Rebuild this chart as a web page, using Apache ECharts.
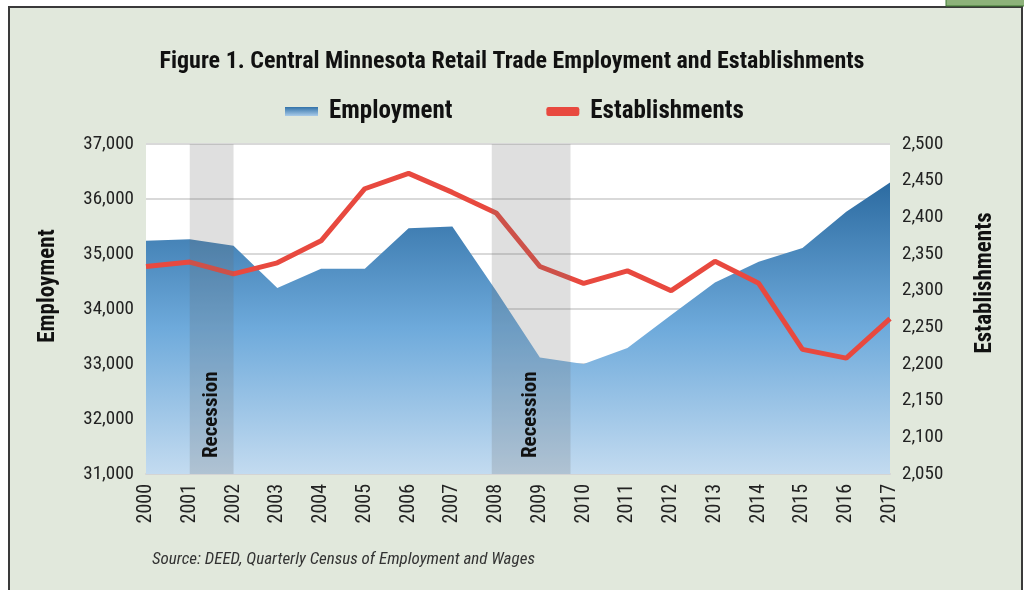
<!DOCTYPE html>
<html>
<head>
<meta charset="utf-8">
<script src="https://cdn.jsdelivr.net/npm/echarts@6/dist/echarts.min.js"></script>
<style>
  html, body { margin: 0; padding: 0; background: #ffffff; }
  #chart { width: 1024px; height: 590px; }
</style>
</head>
<body>
<div id="chart"></div>
<script>
// years on the x axis
const years = [2000, 2001, 2002, 2003, 2004, 2005, 2006, 2007, 2008, 2009,
  2010, 2011, 2012, 2013, 2014, 2015, 2016, 2017];
// retail trade employment (left axis)
const employment = [35240, 35270, 35150, 34380, 34730, 34730, 35470, 35500, 34330,
  33120, 33000, 33290, 33890, 34480, 34860, 35110, 35770, 36300];
// establishments (right axis)
const establishments = [2333, 2339, 2323, 2338, 2368, 2439, 2460, 2434, 2406,
  2333, 2310, 2327, 2300, 2340, 2310, 2220, 2208, 2262];
// recession periods (start, end) in years
const recessions = [[2001, 2002], [2007.9, 2009.7]];

const FONT = "'Liberation Sans Narrow', 'Roboto Condensed', Roboto, sans-serif";

const chart = echarts.init(document.getElementById('chart'));

chart.setOption({
  backgroundColor: '#ffffff',
  animation: false,
  textStyle: { fontFamily: FONT },
  graphic: [
    {
      type: 'rect', z: -20, silent: true,
      shape: { x: 9, y: 7, width: 1013, height: 590 },
      style: { fill: '#e1e8dc', stroke: '#3a3a3a', lineWidth: 2 },
    },
    {
      type: 'rect', z: -10, silent: true,
      shape: { x: 946, y: -2, width: 80, height: 8 },
      style: { fill: '#8db27a', stroke: '#3f7a33', lineWidth: 1 },
    },
    // axis titles
    {
      type: 'text', x: 48, y: 286, rotation: Math.PI / 2,
      style: {
        text: 'Employment', fontFamily: FONT, fontSize: 23, fontWeight: 'bold',
        fill: '#111', textAlign: 'center', textVerticalAlign: 'middle',
      },
    },
    {
      type: 'text', x: 985, y: 283, rotation: Math.PI / 2,
      style: {
        text: 'Establishments', fontFamily: FONT, fontSize: 23, fontWeight: 'bold',
        fill: '#111', textAlign: 'center', textVerticalAlign: 'middle',
      },
    },
    // source note
    {
      type: 'text', x: 152, y: 560,
      style: {
        text: 'Source: DEED, Quarterly Census of Employment and Wages',
        fontFamily: FONT, fontStyle: 'italic', fontSize: 17,
        fill: '#333', textVerticalAlign: 'middle',
      },
    },
  ],
  title: {
    text: 'Figure 1. Central Minnesota Retail Trade Employment and Establishments',
    left: 'center',
    top: 45,
    textStyle: { fontFamily: FONT, fontSize: 24, fontWeight: 'bold', color: '#111' },
  },
  legend: {
    top: 94,
    left: 280,
    itemWidth: 33,
    itemHeight: 9,
    itemGap: 94,
    textStyle: {
      fontFamily: FONT, fontSize: 25, fontWeight: 'bold', color: '#111',
      padding: [0, 0, 0, 6],
    },
    data: [
      {
        name: 'Employment',
        icon: 'rect',
        itemStyle: {
          color: new echarts.graphic.LinearGradient(0, 0, 0, 1, [
            { offset: 0, color: '#3272a9' },
            { offset: 1, color: '#a9cbe9' },
          ]),
        },
      },
      {
        name: 'Establishments',
        icon: 'roundRect',
        itemStyle: { color: '#e8493f' },
      },
    ],
  },
  grid: {
    left: 146,
    right: 134,
    top: 144,
    bottom: 116,
    show: true,
    backgroundColor: '#ffffff',
    borderWidth: 0,
  },
  xAxis: {
    type: 'value',
    min: 2000,
    max: 2017,
    interval: 1,
    axisLine: { show: true, lineStyle: { color: '#d4d4d4', width: 2 } },
    axisTick: { show: false },
    splitLine: { show: false },
    axisLabel: {
      rotate: 90,
      margin: 10,
      fontSize: 20,
      color: '#222',
      fontFamily: FONT,
      formatter: (v) => String(v),
    },
  },
  yAxis: [
    {
      type: 'value',
      min: 31000,
      max: 37000,
      interval: 1000,
      axisLine: { show: false },
      axisTick: { show: false },
      axisLabel: {
        fontSize: 19,
        color: '#222',
        margin: 12,
        fontFamily: FONT,
        formatter: (v) => v.toLocaleString('en-US'),
      },
      splitLine: { show: true, lineStyle: { color: '#d9d9d9', width: 2 } },
    },
    {
      type: 'value',
      min: 2050,
      max: 2500,
      interval: 50,
      axisLine: { show: false },
      axisTick: { show: false },
      axisLabel: {
        fontSize: 19,
        color: '#222',
        margin: 12,
        fontFamily: FONT,
        formatter: (v) => v.toLocaleString('en-US'),
      },
      splitLine: { show: false },
    },
  ],
  series: [
    {
      name: 'Employment',
      type: 'line',
      yAxisIndex: 0,
      symbol: 'none',
      lineStyle: { width: 0 },
      itemStyle: { color: '#3a78ae' },
      areaStyle: {
        opacity: 1,
        color: new echarts.graphic.LinearGradient(0, 0, 0, 1, [
          { offset: 0, color: '#2c6ba1' },
          { offset: 0.5, color: '#6eaadb' },
          { offset: 1, color: '#c3dbf0' },
        ]),
      },
      data: years.map((y, i) => [y, employment[i]]),
      z: 1,
    },
    {
      name: 'Establishments',
      type: 'line',
      yAxisIndex: 1,
      symbol: 'none',
      lineStyle: { width: 5, color: '#e8493f' },
      itemStyle: { color: '#e8493f' },
      data: years.map((y, i) => [y, establishments[i]]),
      z: 2,
    },
    {
      name: 'Recession',
      type: 'line',
      yAxisIndex: 0,
      data: [],
      z: 10,
      markArea: {
        silent: true,
        z: 10,
        itemStyle: { color: 'rgba(110,110,110,0.22)' },
        label: {
          show: true,
          position: 'insideBottom',
          distance: 16,
          rotate: 90,
          align: 'left',
          verticalAlign: 'middle',
          fontFamily: FONT,
          fontSize: 21,
          fontWeight: 'bold',
          color: '#111',
        },
        data: recessions.map((r) => [{ name: 'Recession', xAxis: r[0] }, { xAxis: r[1] }]),
      },
    },
  ],
});
</script>
</body>
</html>
